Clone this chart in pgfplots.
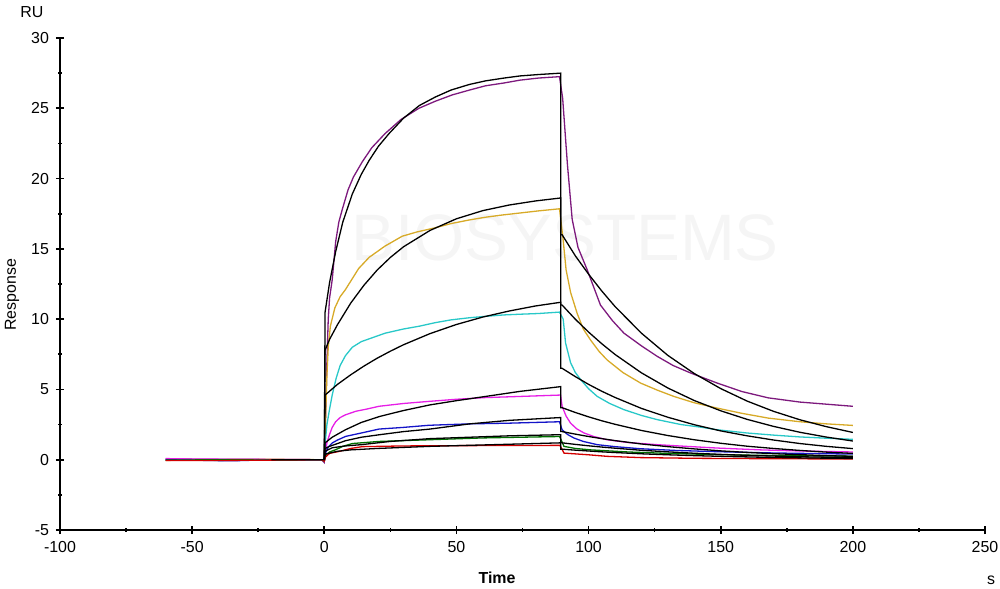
\documentclass[border=0pt]{standalone}
\usepackage{fontspec}
\setmainfont{Liberation Sans}
\usepackage{pgfplots}
\pgfplotsset{compat=1.18}

\definecolor{cPurple}{RGB}{125,25,125}
\definecolor{cGold}{RGB}{215,170,40}
\definecolor{cCyan}{RGB}{40,200,200}
\definecolor{cMagenta}{RGB}{230,30,230}
\definecolor{cBlue}{RGB}{20,20,200}
\definecolor{cGreen}{RGB}{0,110,0}
\definecolor{cRed}{RGB}{210,0,0}
\definecolor{cMark}{RGB}{245,245,245}

\begin{document}
\begin{tikzpicture}
\useasboundingbox (-30bp,-29.5bp) rectangle (470bp,265bp);
% faint watermark
\node[font=\fontsize{33}{36}\selectfont, text=cMark] at (252.5bp,146bp) {BIOSYSTEMS};
\begin{axis}[
    scale only axis, width=462.5bp, height=246bp,
    xmin=-100, xmax=250, ymin=-5, ymax=30,
    axis x line=bottom, axis y line=left,
    axis line style={line width=1bp, -},
    xtick={-100,-50,...,250}, ytick={-5,0,...,30},
    minor x tick num=1, minor y tick num=1,
    tick align=center,
    major tick length=4bp, minor tick length=1.5bp,
    tick style={line width=0.8bp, black},
    /pgf/number format/assume math mode=true,
    ticklabel style={font=\fontsize{8}{9}\selectfont},
    every axis plot/.append style={line width=0.65bp, no marks},
]
% measured responses
\addplot[cPurple] coordinates {(-60,0.05)(-40,0.03)(-20,0.02)(-1,0)(0,-0.2)(0.5,3)(1,7)(1.5,10)(2,11.5)(3,12.8)(4.3,15.5)(5.5,16.9)(6.8,17.8)(9,19.2)(11,20.1)(14.4,21.2)(18,22.2)(23,23.2)(29,24.2)(35.8,25.0)(42,25.5)(48.4,25.95)(55,26.3)(61,26.6)(68,26.8)(74,27.0)(81,27.15)(89,27.25)
 (90.2,25.7)(92,21.0)(93.8,17.1)(96,15.1)(99.5,13.5)(104.5,11.0)(109,9.9)(113.4,9.0)(120,8.1)(126,7.35)(132,6.7)(138.6,6.17)(148.7,5.45)(158,4.85)(168,4.4)(180,4.1)(190,3.95)(200,3.8)};
\addplot[cGold] coordinates {(-60,-0.05)(-40,0)(-20,0.03)(-1,0)(0,-0.1)(0.5,3)(1,6)(1.5,8)(2.3,9.5)(4,10.8)(6,11.6)(8,12.1)(10,12.7)(13,13.6)(17,14.4)(23,15.2)(29.5,15.9)(35,16.2)(42,16.5)(48,16.8)(54.7,17.05)(61,17.25)(67,17.4)(74,17.55)(81,17.7)(89,17.85)
 (90.4,15.6)(91.5,13.5)(93.2,11.9)(95.7,10.4)(98,9.3)(100.8,8.5)(104,7.7)(107,7.1)(113,6.2)(119.7,5.45)(126,4.95)(132.3,4.5)(140,4.05)(148.7,3.67)(158,3.3)(168,2.96)(180,2.7)(190,2.55)(200,2.44)};
\addplot[cCyan] coordinates {(-60,0)(-40,-0.05)(-20,0)(-1,0)(0,-0.1)(0.5,1.5)(1,2.5)(2,3.6)(3,4.6)(4.5,5.8)(6,6.7)(8,7.4)(10.6,8.0)(14,8.4)(17,8.6)(23,9.0)(30,9.3)(36,9.5)(42,9.75)(48,9.95)(55,10.1)(61,10.2)(68,10.3)(74,10.35)(81,10.4)(89,10.5)
 (90.4,10.0)(91.3,8.3)(93.2,6.9)(95,6.2)(97,5.7)(100,5.05)(103.3,4.5)(108,4.0)(113.4,3.56)(120,3.15)(126,2.85)(135,2.5)(143,2.3)(148.7,2.13)(160,1.9)(170,1.75)(180,1.62)(190,1.53)(200,1.45)};
\addplot[cMagenta] coordinates {(-60,0.08)(-50,0.05)(-20,0.02)(-1,0)(0,-0.1)(0.5,0.6)(1,1.2)(2,1.8)(3,2.3)(4.3,2.7)(6,3.0)(8.1,3.2)(12,3.45)(16,3.6)(20.7,3.8)(30,4.0)(39.6,4.15)(50,4.3)(61,4.42)(74,4.5)(89.4,4.6)
 (90,3.8)(91.5,3.1)(93.2,2.6)(95.5,2.2)(98.3,1.9)(102,1.65)(107,1.42)(115,1.22)(126,1.07)(137,0.95)(148.7,0.83)(165,0.7)(180,0.62)(200,0.55)};
\addplot[cBlue] coordinates {(-60,0)(-35,-0.08)(-20,0)(-1,0)(0,-0.1)(0.5,0.5)(1.5,0.9)(3,1.19)(5,1.4)(8.1,1.66)(14,1.9)(20.7,2.18)(30,2.3)(39.6,2.45)(55,2.55)(70,2.6)(89,2.7)
 (90,2.13)(92,1.8)(94.5,1.54)(98,1.3)(103.3,1.07)(110,0.93)(119.7,0.78)(133,0.66)(148.7,0.57)(170,0.48)(200,0.4)};
\addplot[cGreen] coordinates {(-60,-0.03)(-40,0)(-20,-0.02)(-1,0)(0,-0.1)(0.5,0.3)(2,0.55)(4.3,0.71)(7,0.95)(10.6,1.15)(20.7,1.3)(39.6,1.42)(60,1.55)(89,1.65)
 (89.4,1.5)(90.7,0.95)(95,0.8)(100.8,0.7)(115,0.55)(130,0.45)(148.7,0.36)(170,0.3)(200,0.25)};
\addplot[cRed] coordinates {(-60,-0.05)(-45,-0.06)(-20,-0.03)(-1,0)(0,-0.1)(0.5,0.2)(2,0.45)(5.6,0.59)(10,0.8)(14.4,0.93)(30,0.98)(50,1.0)(89,1.02)
 (89.4,0.95)(90.7,0.47)(100,0.35)(107,0.24)(119.7,0.15)(140,0.1)(170,0.07)(200,0.05)};
% fitted curves
\addplot[black] coordinates {(-20,0)(0,0)(0.3,10.5)(2,12.6)(4.3,14.8)(7,16.9)(10.6,18.9)(14,20.3)(17,21.3)(20.5,22.3)(24.5,23.2)(30,24.3)(36,25.2)(42,25.8)(48,26.3)(55,26.7)(61,26.95)(68,27.15)(74,27.3)(81,27.4)(89.5,27.5)
 (89.5,16.0)(90,16.0)(95,14.5)(100,13.2)(105,12.0)(110,10.9)(120,9.0)(130,7.42)(140,6.13)(150,5.06)(160,4.17)(170,3.44)(180,2.84)(190,2.35)(200,1.94)};
\addplot[black] coordinates {(0,0)(0.3,7.8)(2,8.56)(5,9.61)(10,11.14)(15,12.41)(20,13.49)(25,14.39)(30,15.15)(40,16.31)(50,17.14)(60,17.72)(70,18.12)(80,18.41)(89.5,18.62)
 (89.5,11.0)(90,11.0)(95,9.99)(100,9.08)(105,8.25)(110,7.49)(120,6.18)(130,5.10)(140,4.21)(150,3.48)(160,2.87)(170,2.37)(180,1.95)(190,1.61)(200,1.33)};
\addplot[black] coordinates {(0,0)(0.3,4.6)(5,5.36)(10,6.04)(15,6.66)(20,7.22)(25,7.72)(30,8.18)(40,8.97)(50,9.62)(60,10.15)(70,10.58)(80,10.94)(89.5,11.2)
 (89.5,6.5)(90,6.5)(95,5.91)(100,5.36)(105,4.87)(110,4.43)(120,3.65)(130,3.02)(140,2.49)(150,2.05)(160,1.70)(170,1.40)(180,1.15)(190,0.95)(200,0.79)};
\addplot[black] coordinates {(0,0)(0.3,1.2)(3,1.6)(8,2.13)(14,2.65)(21,3.08)(30,3.5)(40,3.9)(50,4.2)(61,4.5)(74,4.86)(89.5,5.2)
 (89.5,3.7)(90,3.7)(95,3.36)(100,3.05)(105,2.77)(110,2.52)(120,2.08)(130,1.72)(140,1.42)(150,1.17)(160,0.96)(170,0.80)(180,0.66)(190,0.54)(200,0.45)};
\addplot[black] coordinates {(0,0)(0.3,0.8)(2,0.95)(8,1.35)(14,1.6)(21,1.78)(30,2.0)(40,2.18)(55,2.55)(70,2.8)(89.5,3.0)
 (89.5,2.0)(90,2.0)(95,1.82)(100,1.65)(105,1.50)(110,1.36)(120,1.12)(130,0.93)(140,0.77)(150,0.63)(160,0.52)(170,0.43)(180,0.36)(190,0.29)(200,0.24)};
\addplot[black] coordinates {(0,0)(0.3,0.6)(3,0.85)(8,0.98)(14,1.07)(25,1.3)(40,1.5)(55,1.6)(70,1.7)(89.5,1.78)
 (89.5,1.2)(90,1.2)(95,1.09)(100,0.99)(105,0.90)(110,0.82)(120,0.67)(130,0.56)(140,0.46)(150,0.38)(160,0.31)(170,0.26)(180,0.21)(190,0.18)(200,0.15)};
\addplot[black] coordinates {(0,0)(0.3,0.4)(5,0.6)(10,0.7)(20,0.8)(40,0.95)(60,1.05)(89.5,1.2)
 (89.5,0.75)(90,0.75)(95,0.68)(100,0.62)(105,0.56)(110,0.51)(120,0.42)(130,0.35)(140,0.29)(150,0.24)(160,0.20)(170,0.16)(180,0.13)(190,0.11)(200,0.09)};
\end{axis}
\node[font=\fontsize{8}{9}\selectfont] at (-14bp,259bp) {RU};
\node[font=\fontsize{8}{9}\selectfont, rotate=90] at (-24bp,117.5bp) {Response};
\node[font=\fontsize{8}{9}\selectfont\bfseries] at (218.5bp,-24bp) {Time};
\node[font=\fontsize{8}{9}\selectfont] at (465.5bp,-25bp) {s};
\end{tikzpicture}
\end{document}
